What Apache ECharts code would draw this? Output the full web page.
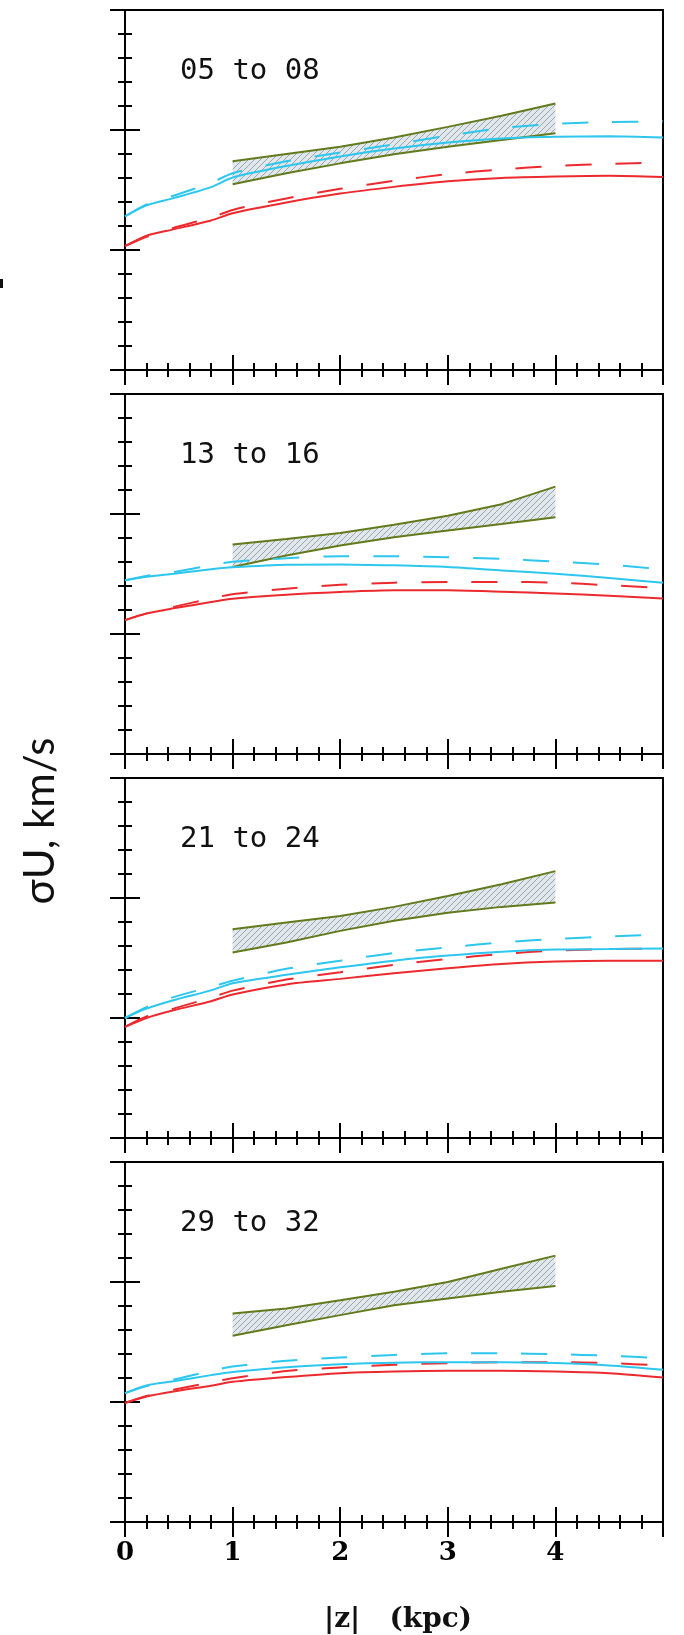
<!DOCTYPE html>
<html>
<head>
<meta charset="utf-8">
<script src="https://cdn.jsdelivr.net/npm/echarts@6/dist/echarts.min.js"></script>
<style>
  html, body { margin: 0; padding: 0; background: #fff; }
  #chart { width: 684px; height: 1635px; }
</style>
</head>
<body>
<div id="chart"></div>
<script>
// ---- data ----
const zGrid = [0, 0.2, 0.45, 0.8, 1, 1.5, 2, 2.5, 3, 3.5, 4, 4.5, 5];
const zBand = [1, 1.5, 2, 2.5, 3, 3.5, 4];
const panelLabels = ['05 to 08', '13 to 16', '21 to 24', '29 to 32'];
const xTickLabels = ['0', '1', '2', '3', '4'];

const redSolid = [
  [51.6, 56.0, 58.6, 62.3, 65.3, 69.8, 73.5, 76.3, 78.6, 80.0, 80.6, 80.9, 80.4],
  [55.8, 58.6, 60.7, 63.3, 64.7, 66.4, 67.5, 68.2, 68.2, 67.6, 66.9, 65.9, 64.8],
  [46.3, 50.0, 53.2, 57.0, 59.8, 64.0, 66.3, 68.6, 70.7, 72.5, 73.5, 73.9, 73.9],
  [49.6, 52.3, 54.4, 56.8, 58.4, 60.4, 62.0, 62.7, 63.0, 63.0, 62.7, 62.0, 60.2]
];
const redDash = [
  [51.6, 55.5, 59.2, 63.5, 66.7, 71.5, 75.5, 78.8, 81.6, 83.6, 85.0, 85.9, 86.4],
  [55.8, 58.5, 61.3, 64.8, 66.6, 68.9, 70.5, 71.4, 71.7, 71.7, 71.4, 70.3, 69.2],
  [46.3, 50.6, 53.9, 58.5, 61.4, 66.0, 69.1, 72.1, 74.6, 76.7, 78.1, 78.7, 78.9],
  [49.6, 52.5, 55.1, 58.2, 59.9, 62.9, 64.4, 65.5, 66.2, 66.6, 66.6, 66.2, 65.2]
];
const cyanSolid = [
  [64.0, 68.6, 71.6, 76.2, 80.2, 85.0, 89.0, 92.3, 94.8, 96.5, 97.2, 97.4, 96.9],
  [72.4, 73.8, 75.1, 77.0, 77.8, 78.9, 79.0, 78.6, 77.9, 76.5, 75.1, 73.3, 71.4],
  [50.0, 53.9, 57.4, 61.5, 64.5, 68.0, 71.1, 73.9, 76.0, 77.6, 78.5, 78.7, 79.0],
  [53.7, 56.9, 58.6, 61.2, 62.5, 64.5, 65.7, 66.4, 66.6, 66.6, 66.2, 65.2, 63.4]
];
const cyanDash = [
  [64.0, 69.0, 72.6, 78.0, 82.0, 87.0, 90.6, 94.0, 97.6, 100.8, 102.6, 103.3, 103.6],
  [72.4, 74.2, 75.8, 78.6, 80.1, 81.6, 82.4, 82.4, 82.0, 81.3, 80.2, 78.9, 76.9],
  [50.0, 54.5, 58.7, 63.0, 65.5, 70.5, 73.9, 77.1, 79.4, 81.5, 82.9, 84.0, 84.7],
  [53.7, 56.6, 59.3, 63.0, 64.8, 67.2, 68.5, 69.6, 70.3, 70.3, 69.9, 69.3, 68.2]
];
const bandUpper = [
  [87.0, 90.0, 93.0, 96.9, 101.3, 105.9, 111.0],
  [87.3, 89.6, 92.1, 95.5, 99.3, 104.1, 111.4],
  [87.0, 89.8, 92.5, 96.3, 100.8, 105.7, 111.2],
  [86.9, 89.0, 92.4, 95.9, 100.0, 105.5, 111.0]
];
const bandLower = [
  [77.4, 82.0, 86.1, 89.9, 93.0, 95.8, 98.6],
  [77.9, 82.7, 86.9, 90.3, 93.1, 95.8, 98.6],
  [77.3, 81.5, 86.3, 90.5, 93.9, 96.3, 98.1],
  [77.6, 82.0, 86.2, 90.3, 93.1, 95.9, 98.3]
];

// ---- styling / layout ----
const RED = '#ec2a2e';
const CYAN = '#2cc6ee';
const OLIVE = '#627a1c';
const panelTops = [10, 394, 778, 1162];
const panelH = 360;
const gridLeft = 125, gridW = 538;

// hatch pattern
const pc = document.createElement('canvas');
pc.width = 6; pc.height = 6;
const pctx = pc.getContext('2d');
pctx.fillStyle = '#e2e7eb';
pctx.fillRect(0, 0, 6, 6);
pctx.strokeStyle = '#98a6b0';
pctx.lineWidth = 1;
pctx.beginPath();
pctx.moveTo(0, 6); pctx.lineTo(6, 0);
pctx.moveTo(-1, 1); pctx.lineTo(1, -1);
pctx.moveTo(5, 7); pctx.lineTo(7, 5);
pctx.stroke();
const hatch = { image: pc, repeat: 'repeat' };

const grids = [], xAxes = [], yAxes = [], series = [], graphics = [];
const tickStyle = { color: '#000', width: 2 };

panelTops.forEach((top, i) => {
  grids.push({ left: gridLeft, top: top, width: gridW, height: panelH,
    show: true, borderColor: '#000', borderWidth: 2, backgroundColor: 'transparent' });
  const last = i === panelTops.length - 1;
  const xCommon = {
    type: 'value', gridIndex: i, min: 0, max: 5, interval: 1,
    axisLine: { show: false },
    axisTick: { show: true, inside: true, length: 15, lineStyle: tickStyle },
    minorTick: { show: true, splitNumber: 5, length: 7, lineStyle: tickStyle },
    splitLine: { show: false }, minorSplitLine: { show: false }
  };
  xAxes.push(Object.assign({}, xCommon, {
    position: 'bottom',
    axisLabel: {
      show: last, margin: 18, color: '#000',
      fontFamily: 'DejaVu Serif', fontSize: 26, fontWeight: 'bold',
      formatter: v => (xTickLabels[v] !== undefined ? xTickLabels[v] : '')
    }
  }));
  xAxes.push(Object.assign({}, xCommon, { position: 'top', axisLabel: { show: false } }));
  const yCommon = {
    type: 'value', gridIndex: i, min: 0, max: 150, interval: 50,
    axisLine: { show: false },
    axisTick: { show: true, inside: true, length: 15, lineStyle: tickStyle },
    minorTick: { show: true, splitNumber: 5, length: 7, lineStyle: tickStyle },
    axisLabel: { show: false },
    splitLine: { show: false }, minorSplitLine: { show: false }
  };
  yAxes.push(Object.assign({}, yCommon, { position: 'left' }));
  yAxes.push(Object.assign({}, yCommon, { position: 'right' }));

  const xi = 2 * i, yi = 2 * i;
  // hatched band (polygon through the axes' coordinate system)
  series.push({
    type: 'custom', xAxisIndex: xi, yAxisIndex: yi, z: 1,
    data: [[zBand[0], bandLower[i][0]]],
    renderItem: (params, api) => {
      const pts = [];
      zBand.forEach((z, k) => pts.push(api.coord([z, bandUpper[i][k]])));
      for (let k = zBand.length - 1; k >= 0; k--) pts.push(api.coord([zBand[k], bandLower[i][k]]));
      return { type: 'polygon', shape: { points: pts }, style: { fill: hatch, stroke: null } };
    }
  });
  const addBandEdge = (arr) => series.push({
    type: 'line', xAxisIndex: xi, yAxisIndex: yi,
    data: zBand.map((z, k) => [z, arr[i][k]]),
    showSymbol: false, symbol: 'none', z: 2,
    lineStyle: { color: OLIVE, width: 2 }
  });
  addBandEdge(bandUpper);
  addBandEdge(bandLower);
  const addLine = (arr, color, dashed) => series.push({
    type: 'line', xAxisIndex: xi, yAxisIndex: yi,
    data: zGrid.map((z, k) => [z, arr[i][k]]),
    showSymbol: false, symbol: 'none', smooth: 0.25, z: 3,
    lineStyle: { color: color, width: 2, type: dashed ? [26, 24] : 'solid' }
  });
  addLine(redSolid, RED, false);
  addLine(redDash, RED, true);
  addLine(cyanSolid, CYAN, false);
  addLine(cyanDash, CYAN, true);

  graphics.push({
    type: 'text', left: 180, top: top + 47, z: 10,
    style: { text: panelLabels[i], font: '29px "DejaVu Sans Mono"', fill: '#111' }
  });
});

graphics.push({
  type: 'text', x: 40, y: 821, rotation: Math.PI / 2, z: 10,
  style: { text: 'σU, km/s', font: '42px Lato', fill: '#111',
    textAlign: 'center', textVerticalAlign: 'middle' }
});
graphics.push({
  type: 'text', x: 398, y: 1620, z: 10,
  style: { text: '|z|   (kpc)', font: 'bold 28px "DejaVu Serif"', fill: '#111',
    textAlign: 'center', textVerticalAlign: 'middle' }
});
graphics.push({
  type: 'rect', shape: { x: 0, y: 279, width: 3, height: 9 }, style: { fill: '#111' }
});

const chart = echarts.init(document.getElementById('chart'), null, { renderer: 'canvas' });
chart.setOption({
  animation: false,
  backgroundColor: '#fff',
  grid: grids,
  xAxis: xAxes,
  yAxis: yAxes,
  series: series,
  graphic: graphics
});
</script>
</body>
</html>
